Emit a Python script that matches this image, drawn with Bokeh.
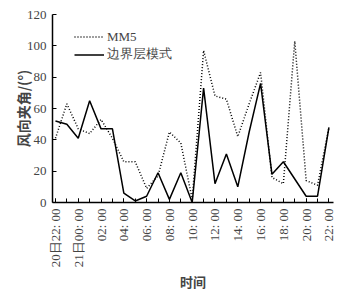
from bokeh.plotting import figure
from bokeh.models import Range1d, FixedTicker, Legend, LegendItem
from bokeh.embed import file_html
from bokeh.resources import INLINE
import math

hours = list(range(25))
tick_labels = ["20日22: 00", "21日00: 00", "02: 00", "04: 00", "06: 00", "08: 00",
               "10: 00", "12: 00", "14: 00", "16: 00", "18: 00", "20: 00", "22: 00"]
mm5 = [41, 63, 47, 44, 53, 41, 26, 26, 9, 17, 45, 38, 2, 97, 68, 66, 42, 63, 83, 16, 12, 103, 14, 11, 48]
blm = [52, 50, 41, 65, 47, 47, 6, 1, 4, 19, 2, 19, 0, 73, 12, 31, 10, 45, 76, 18, 26, 15, 4, 4, 48]
y_ticks = [0, 20, 40, 60, 80, 100, 120]

p = figure(width=337, height=294, output_backend="svg", toolbar_location=None,
           x_range=Range1d(-0.26, 24.4), y_range=Range1d(0, 120),
           min_border_left=52, min_border_right=4, min_border_top=14, min_border_bottom=86)
p.outline_line_color = None
p.grid.visible = False
p.background_fill_color = "white"

r1 = p.line(hours, mm5, line_color="black", line_width=1.5, line_dash="1 2")
r2 = p.line(hours, blm, line_color="black", line_width=1.5)

xa = p.xaxis[0]
xa.ticker = FixedTicker(ticks=list(range(0, 25, 2)), minor_ticks=list(range(25)))
xa.major_label_overrides = {i * 2: t for i, t in enumerate(tick_labels)}
xa.major_label_orientation = math.pi / 2
xa.major_label_text_font = "Liberation Serif"
xa.major_label_text_font_size = "13px"
xa.major_label_standoff = 6
xa.major_tick_in = 4
xa.major_tick_out = 0
xa.minor_tick_in = 4
xa.minor_tick_out = 0
xa.axis_line_width = 1.5
xa.axis_label = "时间"
xa.axis_label_text_font = "Noto Sans CJK SC"
xa.axis_label_text_font_style = "bold"
xa.axis_label_text_font_size = "13px"
xa.axis_label_standoff = 2

ya = p.yaxis[0]
ya.ticker = FixedTicker(ticks=y_ticks, minor_ticks=[])
ya.major_label_text_font = "Liberation Serif"
ya.major_label_text_font_size = "13px"
ya.major_label_standoff = 6
ya.major_tick_in = 4
ya.major_tick_out = 0
ya.axis_line_width = 1.5
ya.axis_label = "风向夹角/(°)"
ya.axis_label_text_font = "Noto Sans CJK SC"
ya.axis_label_text_font_style = "bold"
ya.axis_label_text_font_size = "14px"
ya.axis_label_standoff = -9

legend = Legend(items=[LegendItem(label="MM5", renderers=[r1]),
                       LegendItem(label="边界层模式", renderers=[r2])],
                location=(22, 139), border_line_color=None, background_fill_alpha=0,
                padding=0, margin=0, spacing=0, glyph_width=30, glyph_height=17,
                label_height=17, label_standoff=3,
                label_text_font="Liberation Serif", label_text_font_size="13px")
p.add_layout(legend)

open("out.html", "w").write(file_html(p, INLINE))
